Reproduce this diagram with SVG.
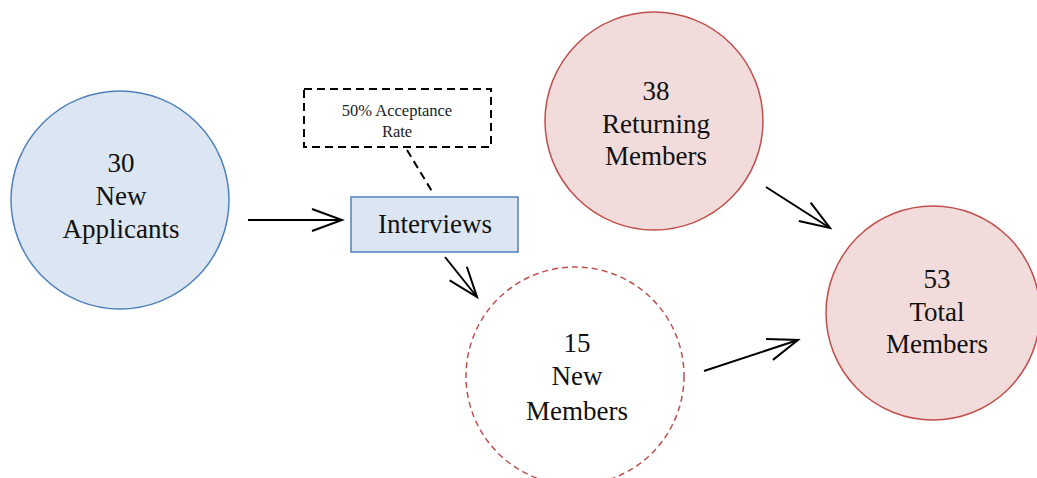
<svg xmlns="http://www.w3.org/2000/svg" width="1037" height="478" viewBox="0 0 1037 478">
<style>
.t{font-family:'Liberation Serif','Times New Roman',Tinos,'DejaVu Serif',serif;font-size:27px;fill:#111;text-anchor:middle}
.s{font-family:'Liberation Serif','Times New Roman',Tinos,'DejaVu Serif',serif;font-size:16.5px;fill:#222;text-anchor:middle}
.blue{fill:#dce6f2;stroke:#4f81bd;stroke-width:1.5}
.red{fill:#f2dcdb;stroke:#c0504d;stroke-width:1.5}
.arr{stroke:#000;stroke-width:2;fill:none;marker-end:url(#open)}
</style>
<defs>
<marker id="open" markerUnits="userSpaceOnUse" markerWidth="40" markerHeight="30" refX="0" refY="0" viewBox="-34 -15 38 30" orient="auto" overflow="visible">
<path d="M-30,-11 L0,0 L-30,11" fill="none" stroke="#000" stroke-width="2"/>
</marker>
</defs>
<rect width="1037" height="478" fill="#fff"/>
<g id="connectors">
<line class="arr" x1="248" y1="220" x2="342" y2="220"/>
<line class="arr" x1="445" y1="257" x2="477" y2="297"/>
<line class="arr" x1="766" y1="187" x2="830" y2="228"/>
<line class="arr" x1="704" y1="371" x2="798" y2="340"/>
<line x1="407" y1="150" x2="433" y2="193" stroke="#000" stroke-width="2" stroke-dasharray="8,5"/>
</g>
<g id="new-applicants">
<circle class="blue" cx="120" cy="200" r="109"/>
<text class="t" x="121" y="172" font-family="Liberation Serif, serif">30</text>
<text class="t" x="121" y="205" font-family="Liberation Serif, serif">New</text>
<text class="t" x="121" y="238" font-family="Liberation Serif, serif">Applicants</text>
</g>
<g id="acceptance-rate">
<rect x="304" y="89" width="187" height="58" fill="#fff" stroke="#000" stroke-width="2" stroke-dasharray="8,5"/>
<text class="s" x="397" y="116">50% Acceptance</text>
<text class="s" x="397" y="137">Rate</text>
</g>
<g id="interviews">
<rect class="blue" x="351" y="197" width="167" height="55" stroke-width="2"/>
<text class="t" x="435" y="233">Interviews</text>
</g>
<g id="returning-members">
<circle class="red" cx="654" cy="121" r="109"/>
<text class="t" x="656" y="100">38</text>
<text class="t" x="656" y="133">Returning</text>
<text class="t" x="656" y="165">Members</text>
</g>
<g id="new-members">
<circle cx="575" cy="376" r="109" fill="#fff" stroke="#c0504d" stroke-width="1.5" stroke-dasharray="6,4"/>
<text class="t" x="577" y="352">15</text>
<text class="t" x="577" y="385">New</text>
<text class="t" x="577" y="420">Members</text>
</g>
<g id="total-members">
<circle class="red" cx="933" cy="313" r="107"/>
<text class="t" x="937" y="288">53</text>
<text class="t" x="937" y="321">Total</text>
<text class="t" x="937" y="353">Members</text>
</g>
</svg>
